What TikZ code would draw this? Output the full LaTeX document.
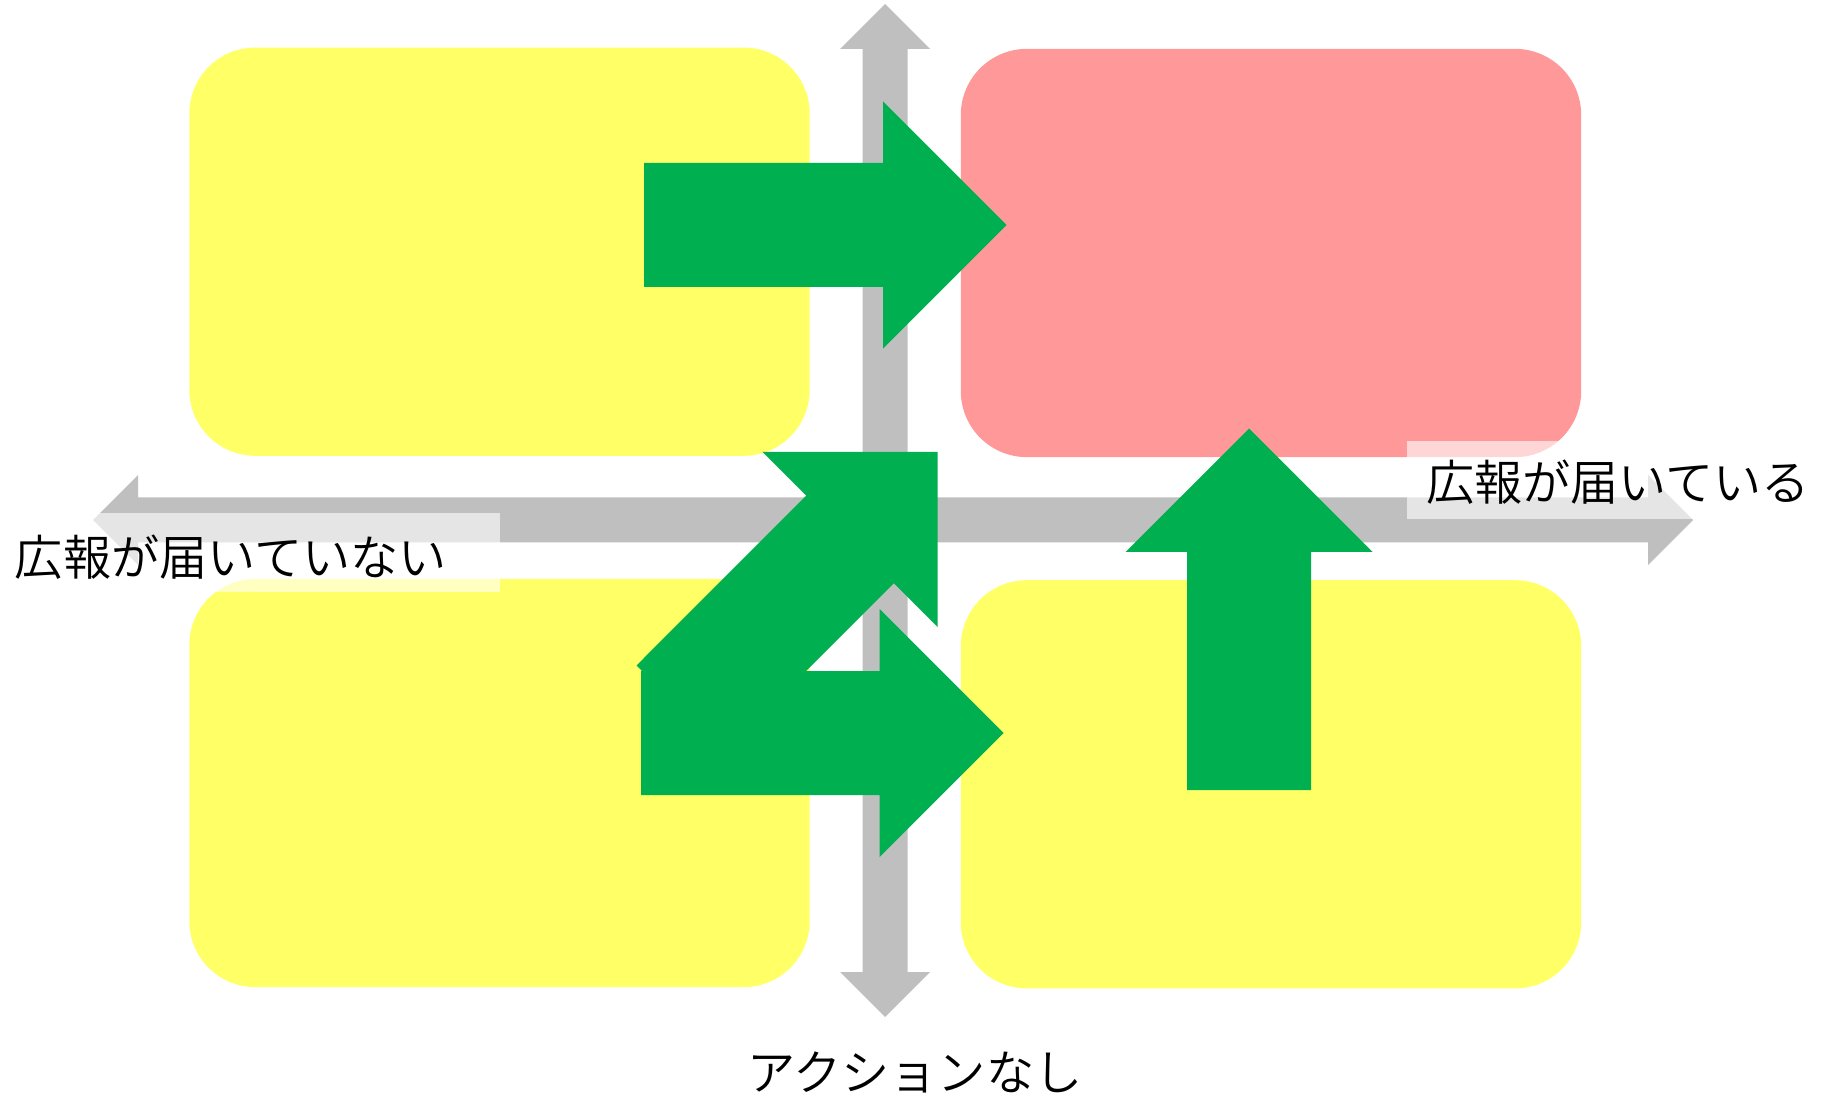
\documentclass[tikz,border=0pt]{standalone}
\usepackage{fontspec}
\newfontfamily\jpfont{Noto Sans CJK JP}[UprightFont={* DemiLight}]
\definecolor{boxyellow}{HTML}{FFFF66}
\definecolor{boxpink}{HTML}{FF9999}
\definecolor{arrowgreen}{HTML}{00B050}
\definecolor{axisgray}{HTML}{BFBFBF}
\begin{document}
\begin{tikzpicture}[x=0.01cm,y=-0.01cm,
  quad/.style={rectangle, rounded corners=0.66cm, minimum width=6.2cm, minimum height=4.08cm, inner sep=0pt, draw=none},
  axisshape/.style={fill=axisgray},
  blockarrow/.style={fill=arrowgreen},
  labelbg/.style={fill=white, fill opacity=0.6},
  axislabel/.style={font=\jpfont\fontsize{13.7}{16}\selectfont, inner sep=0pt, text=black}]
\useasboundingbox (0,0) rectangle (1829,1097);
\fill[white] (0,0) rectangle (1829,1097);
% quadrant boxes
\node[quad, fill=boxyellow] (tl) at (499.5,251.7) {};
\node[quad, fill=boxpink]   (tr) at (1271,253) {};
\node[quad, fill=boxyellow] (bl) at (499.5,783) {};
\node[quad, fill=boxyellow] (br) at (1271,784.3) {};
% axes
\fill[axisshape] (93,520) -- (138,475) -- (138,497.5) -- (1648,497.5) -- (1648,475) -- (1693,520)
  -- (1648,565) -- (1648,542.5) -- (138,542.5) -- (138,565) -- cycle;
\fill[axisshape] (885,4) -- (930,49) -- (907.5,49) -- (907.5,972) -- (930,972) -- (885,1017)
  -- (840,972) -- (862.5,972) -- (862.5,49) -- (840,49) -- cycle;
% label backgrounds
\fill[labelbg] (10,513) rectangle (500,592);
\fill[labelbg] (1407,441) rectangle (1822,519);
% labels
\node[axislabel] (lnot) at (231,557) {広報が届いていない};
\node[axislabel] (lyes) at (1618,482) {広報が届いている};
\node[axislabel] (lnone) at (915,1072) {アクションなし};
% green block arrows
\fill[blockarrow] (644,163) -- (883,163) -- (883,101.5) -- (1006.5,225) -- (883,348.5) -- (883,287) -- (644,287) -- cycle;
\fill[blockarrow] (937.7,451.8) -- (937.7,627.2) -- (893.8,583.3) -- (724,753) -- (636.5,665.5) -- (806.2,495.7) -- (762.3,451.8) -- cycle;
\fill[blockarrow] (641,671) -- (879.5,671) -- (879.5,609) -- (1003.5,733) -- (879.5,857) -- (879.5,795) -- (641,795) -- cycle;
\fill[blockarrow] (1249,428.5) -- (1372.5,552) -- (1311,552) -- (1311,790) -- (1187,790) -- (1187,552) -- (1125.5,552) -- cycle;
\end{tikzpicture}
\end{document}
